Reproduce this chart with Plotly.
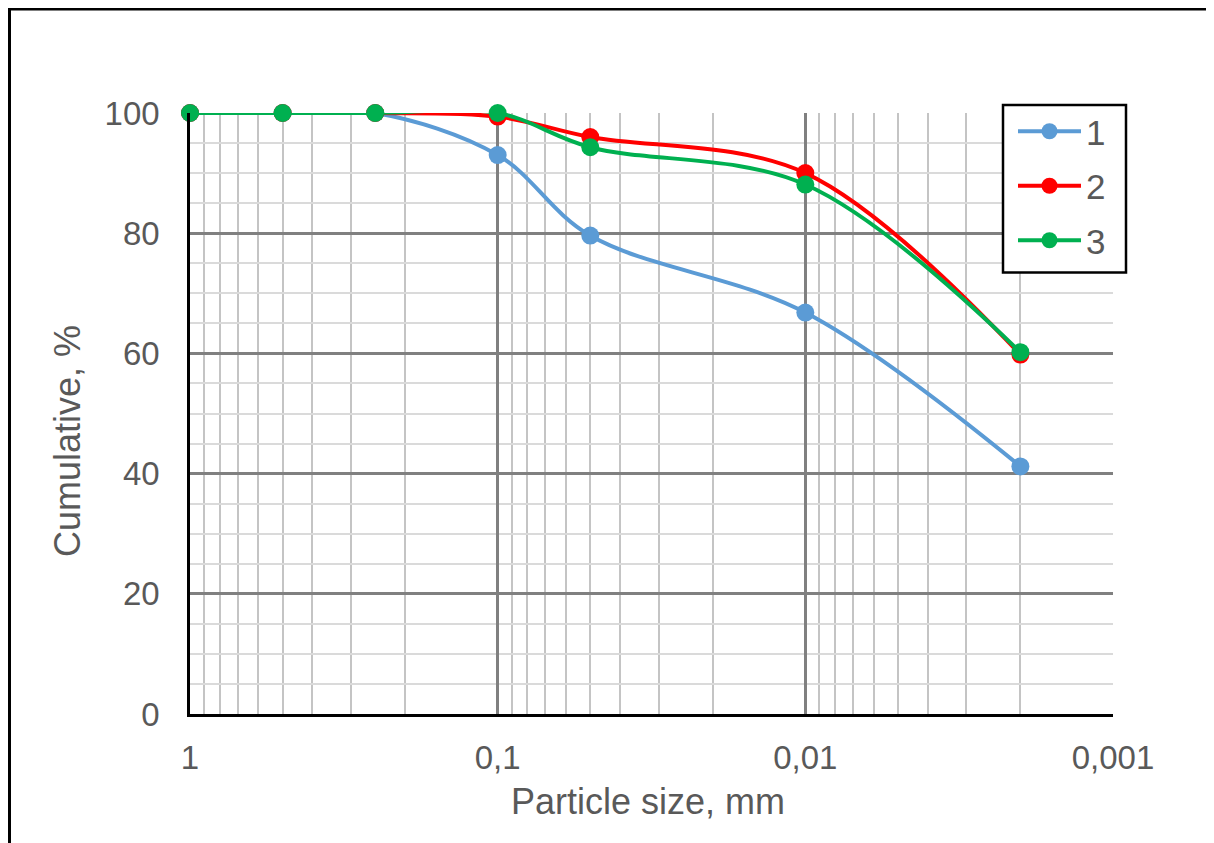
import plotly.graph_objects as go

# ---- data ----
sizes_mm = [1, 0.5, 0.25, 0.1, 0.05, 0.01, 0.002]
series_1 = [100, 100, 100, 93.0, 79.6, 66.8, 41.2]
series_2 = [100, 100, 100, 99.4, 96.0, 90.0, 59.8]
series_3 = [100, 100, 100, 100, 94.3, 88.1, 60.2]
series_names = ["1", "2", "3"]
series_colors = ["#5B9BD5", "#FF0000", "#00B050"]
x_tick_vals = [1, 0.1, 0.01, 0.001]
x_tick_text = ["1", "0,1", "0,01", "0,001"]
y_tick_vals = [0, 20, 40, 60, 80, 100]
x_title = "Particle size, mm"
y_title = "Cumulative, %"

FONT = "Liberation Sans, Arial, sans-serif"
TXT = "#595959"

fig = go.Figure()
for name, vals, col in zip(series_names, [series_1, series_2, series_3], series_colors):
    fig.add_trace(go.Scatter(
        x=sizes_mm, y=vals, name=name, legendgroup=name,
        mode="lines+markers",
        line=dict(color=col, width=4, shape="spline", smoothing=1.0),
        marker=dict(color=col, size=18),
        cliponaxis=False,
    ))

minor_x = [k * 10.0 ** (-d) for d in range(1, 4) for k in range(2, 10)]

OFF = 8  # page body margin
W, H = 1214, 843
L, T = 190 - OFF, 113 - OFF
R, B = W - (1113 - OFF), H - (714 - OFF)
pw, ph = W - L - R, H - T - B

def px(xp):
    return (xp - OFF - L) / pw

def py(yp):
    return (H - B - (yp - OFF)) / ph

fig.update_layout(
    width=W, height=H,
    margin=dict(l=L, r=R, t=T, b=B, pad=0),
    paper_bgcolor="white", plot_bgcolor="white",
    font=dict(family=FONT, color=TXT, size=32),
    showlegend=True,
    legend=dict(
        x=px(1013), y=py(102), xanchor="left", yanchor="top",
        borderwidth=0, bgcolor="rgba(0,0,0,0)",
        font=dict(family=FONT, size=35, color=TXT),
        tracegroupgap=6, itemwidth=63,
        traceorder="grouped",
    ),
    xaxis=dict(
        type="log", range=[0, -3],
        tickmode="array", tickvals=x_tick_vals, ticktext=x_tick_text,
        showgrid=True, gridcolor="#808080", gridwidth=2.5,
        minor=dict(tickvals=minor_x, showgrid=True, gridcolor="#c4c4c4", gridwidth=2, ticks=""),
        showline=True, linecolor="black", linewidth=3,
        ticks="", ticklabelstandoff=12,
        tickfont=dict(family=FONT, size=33, color=TXT),
        zeroline=False,
    ),
    yaxis=dict(
        range=[0, 100],
        tickmode="array", tickvals=y_tick_vals,
        showgrid=True, gridcolor="#808080", gridwidth=2.5,
        minor=dict(dtick=5, showgrid=True, gridcolor="#dadada", gridwidth=2, ticks=""),
        showline=True, linecolor="black", linewidth=2.5,
        ticks="", ticklabelstandoff=21,
        tickfont=dict(family=FONT, size=33, color=TXT),
        zeroline=False,
    ),
    annotations=[
        dict(text=y_title, xref="paper", yref="paper", x=px(67), y=py(441),
             textangle=-90, showarrow=False, xanchor="center", yanchor="middle",
             font=dict(family=FONT, size=36, color=TXT)),
        dict(text=x_title, xref="paper", yref="paper", x=px(648), y=py(801),
             showarrow=False, xanchor="center", yanchor="middle",
             font=dict(family=FONT, size=36, color=TXT)),
    ],
    shapes=[
        dict(type="line", xref="paper", yref="paper", x0=px(9.5), x1=px(9.5),
             y0=py(8), y1=py(880), line=dict(color="black", width=3)),
        dict(type="line", xref="paper", yref="paper", x0=px(8), x1=px(1240),
             y0=py(9), y1=py(9), line=dict(color="black", width=3)),
        # legend frame
        dict(type="rect", xref="paper", yref="paper", layer="above",
             x0=px(1003), x1=px(1126), y0=py(272.5), y1=py(105),
             fillcolor="white", line=dict(color="black", width=2.5)),
    ],
)

fig.write_html("out.html")
